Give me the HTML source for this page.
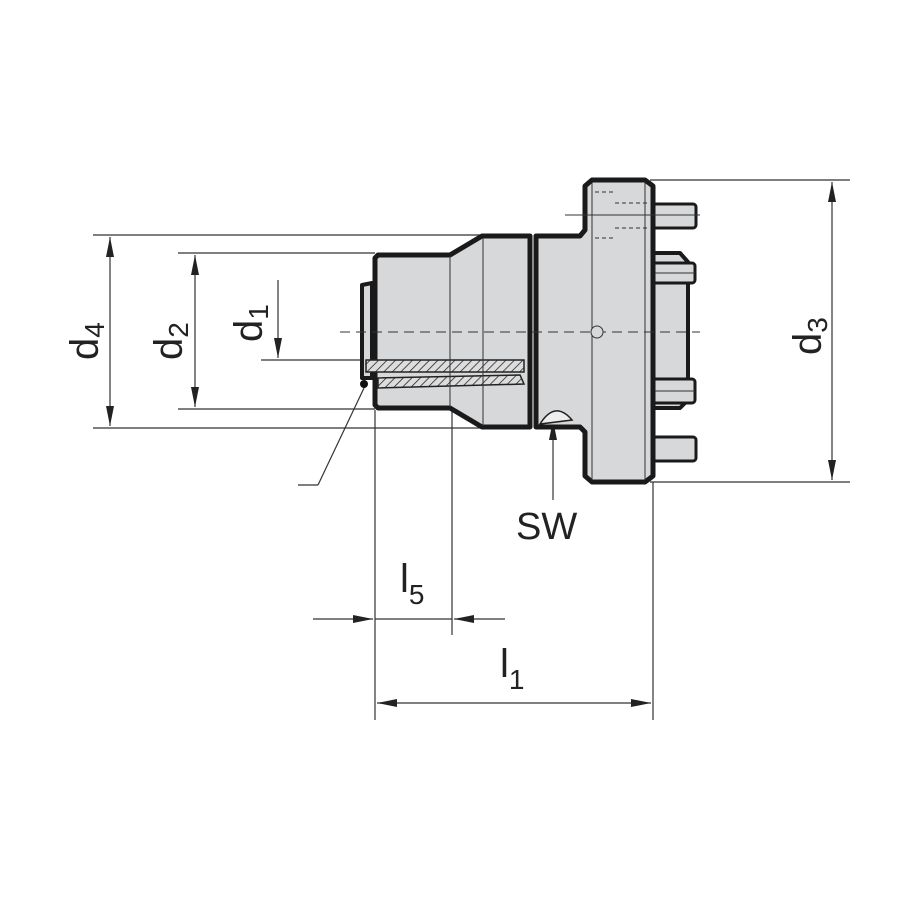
<!DOCTYPE html>
<html><head><style>body{margin:0;background:#fff}svg{display:block}</style></head><body>
<svg width="900" height="900" viewBox="0 0 900 900" xmlns="http://www.w3.org/2000/svg" font-family="Liberation Sans, sans-serif">
<defs>
<marker id="a" viewBox="0 0 10 10" refX="10" refY="5" markerWidth="20" markerHeight="8" preserveAspectRatio="none" markerUnits="userSpaceOnUse" orient="auto-start-reverse"><path d="M0,0L10,5L0,10z" fill="#222"/></marker>
<pattern id="h" width="6" height="6" patternUnits="userSpaceOnUse" patternTransform="rotate(45)"><rect width="6" height="6" fill="#ddd"/><line x1="0" y1="0" x2="0" y2="6" stroke="#222" stroke-width="1.5"/></pattern>
</defs>
<g stroke="#333" stroke-width="1.2" fill="none">
<line x1="93" y1="235" x2="480" y2="235"/><line x1="93" y1="428" x2="480" y2="428"/>
<line x1="178" y1="253" x2="375" y2="253"/><line x1="178" y1="409" x2="375" y2="409"/>
<line x1="261" y1="360" x2="370" y2="360"/>
<line x1="110" y1="237" x2="110" y2="426" marker-start="url(#a)" marker-end="url(#a)"/>
<line x1="195" y1="255" x2="195" y2="407" marker-start="url(#a)" marker-end="url(#a)"/>
<line x1="278" y1="280" x2="278" y2="358" marker-end="url(#a)"/>
<line x1="364" y1="388" x2="318" y2="485"/><line x1="318" y1="485" x2="298" y2="485"/>
<line x1="650" y1="180" x2="850" y2="180"/><line x1="650" y1="482" x2="850" y2="482"/>
<line x1="832" y1="182" x2="832" y2="480" marker-start="url(#a)" marker-end="url(#a)"/>
<line x1="375" y1="410" x2="375" y2="720"/><line x1="452" y1="410" x2="452" y2="635"/><line x1="653" y1="482" x2="653" y2="720"/>
<line x1="313" y1="619" x2="373" y2="619" marker-end="url(#a)"/><line x1="505" y1="619" x2="454" y2="619" marker-end="url(#a)"/><line x1="375" y1="619" x2="452" y2="619"/>
<line x1="377" y1="703" x2="651" y2="703" marker-start="url(#a)" marker-end="url(#a)"/>
<line x1="553" y1="500" x2="553" y2="420" marker-end="url(#a)"/>
</g>
<g stroke="#1a1a1a" stroke-linejoin="round" fill="#d6d8da">
<rect x="653" y="204" width="43" height="24" rx="3" stroke-width="3"/>
<rect x="653" y="437" width="43" height="24" rx="3" stroke-width="3"/>
<path d="M653,253 L680,253 L688,262 L688,400 L680,408 L653,408 Z" stroke-width="4"/>
<rect x="648" y="263" width="47" height="20" rx="3" stroke-width="3"/>
<rect x="648" y="379" width="47" height="24" rx="3" stroke-width="3"/>
<path d="M375,258 L378,255 L450,255 L482,236 L530,236 L530,427 L482,427 L450,408 L378,408 L375,405 Z" stroke-width="5"/>
<path d="M536,236 L580,236 L585,230 L585,186 L592,180 L645,180 L653,186 L653,476 L645,482 L592,482 L585,476 L585,432 L580,427 L536,427 Z" stroke-width="5"/>
<path d="M362,285 L372,283 L372,378 L362,378 Z" stroke-width="4"/>
</g>
<rect x="366" y="360" width="158" height="12" fill="url(#h)" stroke="#222" stroke-width="1.5"/>
<path d="M378,378 L520,375 L524,384 L378,388 Z" fill="url(#h)" stroke="#222" stroke-width="1.5"/>
<g stroke="#333" stroke-width="1" fill="none">
<line x1="450" y1="256" x2="450" y2="407"/><line x1="483" y1="238" x2="483" y2="426"/>
<line x1="592" y1="183" x2="592" y2="480"/><line x1="645" y1="183" x2="645" y2="480"/>
<line x1="340" y1="332" x2="700" y2="332" stroke-dasharray="10,6"/>
<line x1="565" y1="215" x2="700" y2="215"/>
<line x1="655" y1="273" x2="695" y2="273"/><line x1="655" y1="391" x2="695" y2="391"/>
<line x1="595" y1="192" x2="615" y2="192" stroke-dasharray="4,3"/><line x1="615" y1="203" x2="650" y2="203" stroke-dasharray="4,3"/>
<line x1="615" y1="228" x2="650" y2="228" stroke-dasharray="4,3"/><line x1="595" y1="238" x2="615" y2="238" stroke-dasharray="4,3"/>
<circle cx="597" cy="332" r="6" fill="#d6d8da"/>
<path d="M540,424 Q555,400 572,420 Z" fill="#eee" stroke="#222" stroke-width="1.5"/>
</g>
<circle cx="364" cy="384" r="4" fill="#111"/>
<g fill="#222" font-size="40">
<text transform="translate(98,360) rotate(-90)">d<tspan font-size="28" dy="6">4</tspan></text>
<text transform="translate(182,360) rotate(-90)">d<tspan font-size="28" dy="6">2</tspan></text>
<text transform="translate(262,342) rotate(-90)">d<tspan font-size="28" dy="6">1</tspan></text>
<text transform="translate(821,355) rotate(-90)">d<tspan font-size="28" dy="6">3</tspan></text>
<text x="516" y="539" font-size="38">SW</text>
<text x="400" y="592">l<tspan font-size="28" dy="12">5</tspan></text>
<text x="500" y="677">l<tspan font-size="28" dy="12">1</tspan></text>
</g>
</svg>
</body></html>
